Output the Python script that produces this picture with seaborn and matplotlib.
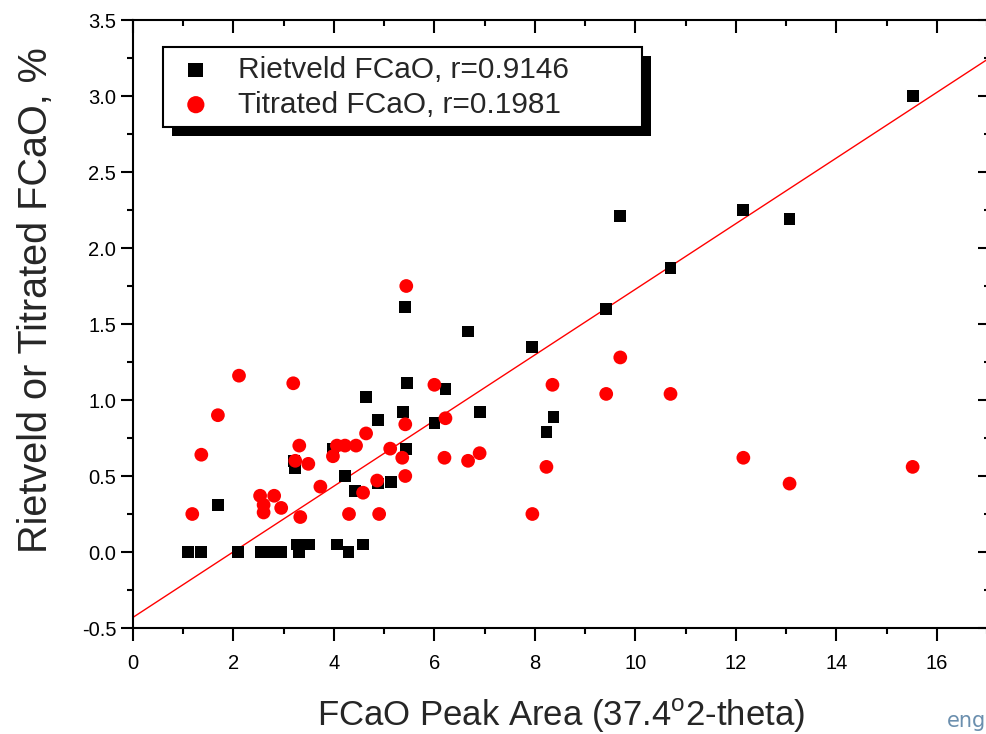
import matplotlib
matplotlib.use("Agg")
import matplotlib.pyplot as plt
from matplotlib.patches import Rectangle
from matplotlib.ticker import MultipleLocator
import seaborn as sns
import pandas as pd

# ---- data ----
riet_x = [1.1, 1.35, 1.69, 2.09, 2.55, 2.7, 2.85, 2.95, 3.27, 3.3, 3.5, 4.06, 4.29, 4.58,
          3.2, 3.22, 3.98, 4.22, 4.42, 5.42, 6.67, 5.46, 4.64, 6.22, 4.88, 5.38, 6.0, 6.91,
          5.44, 4.88, 5.14, 7.95, 8.37, 8.23, 9.7, 12.15, 13.07, 10.7, 9.42, 15.52]
riet_y = [0.0, 0.0, 0.31, 0.0, 0.0, 0.0, 0.0, 0.0, 0.05, 0.0, 0.05, 0.05, 0.0, 0.05,
          0.6, 0.55, 0.68, 0.5, 0.4, 1.61, 1.45, 1.11, 1.02, 1.07, 0.87, 0.92, 0.85, 0.92,
          0.68, 0.45, 0.46, 1.35, 0.89, 0.79, 2.21, 2.25, 2.19, 1.87, 1.6, 3.0]

titr_x = [1.18, 1.36, 1.69, 2.11, 2.53, 2.6, 2.6, 2.81, 2.95, 3.19, 3.31, 3.23, 3.49, 3.33,
          3.73, 3.98, 4.06, 4.22, 4.44, 4.3, 5.44, 6.0, 5.42, 6.22, 4.64, 5.12, 5.36, 6.2,
          6.67, 6.9, 4.86, 4.58, 5.42, 4.9, 7.95, 8.35, 8.23, 9.7, 9.42, 10.7, 12.15, 13.07, 15.52]
titr_y = [0.25, 0.64, 0.9, 1.16, 0.37, 0.31, 0.26, 0.37, 0.29, 1.11, 0.7, 0.6, 0.58, 0.23,
          0.43, 0.63, 0.7, 0.7, 0.7, 0.25, 1.75, 1.1, 0.84, 0.88, 0.78, 0.68, 0.62, 0.62,
          0.6, 0.65, 0.47, 0.39, 0.5, 0.25, 0.25, 1.1, 0.56, 1.28, 1.04, 1.04, 0.62, 0.45, 0.56]

fit_x = [0.0, 17.05]
fit_y = [-0.43, 3.25]

riet_label = "Rietveld FCaO, r=0.9146"
titr_label = "Titrated FCaO, r=0.1981"
x_label = "FCaO Peak Area (37.4$^{\\mathrm{o}}$2-theta)"
y_label = "Rietveld or Titrated FCaO, %"
x_ticks = [0, 2, 4, 6, 8, 10, 12, 14, 16]
y_ticks = [-0.5, 0.0, 0.5, 1.0, 1.5, 2.0, 2.5, 3.0, 3.5]

# ---- style ----
sns.set_theme(style="white")
plt.rcParams["font.family"] = ["Liberation Sans", "DejaVu Sans"]
plt.rcParams["mathtext.fontset"] = "custom"
plt.rcParams["mathtext.rm"] = "Liberation Sans"

W, H = 986, 734
fig = plt.figure(figsize=(W / 100, H / 100), dpi=100)
X0, X1, Y0, Y1 = 133, 989.5, 628, 20
ax = fig.add_axes([X0 / W, (H - Y0) / H, (X1 - X0) / W, (Y0 - Y1) / H])

df_r = pd.DataFrame({"x": riet_x, "y": riet_y})
df_t = pd.DataFrame({"x": titr_x, "y": titr_y})
fit_df = pd.DataFrame({"x": fit_x, "y": fit_y})

sns.lineplot(data=fit_df, x="x", y="y", ax=ax, color="red", linewidth=1.0, zorder=2)
sns.scatterplot(data=df_r, x="x", y="y", ax=ax, marker="s", s=72, color="black",
                edgecolor="none", linewidth=0, zorder=3, label=riet_label)
sns.scatterplot(data=df_t, x="x", y="y", ax=ax, marker="o", s=98, color="red",
                edgecolor="none", linewidth=0, zorder=4, label=titr_label)

ax.set_xlim(0, 17.05)
ax.set_ylim(-0.5, 3.5)
ax.xaxis.set_minor_locator(MultipleLocator(1))
ax.yaxis.set_minor_locator(MultipleLocator(0.25))
ax.set_xticks(x_ticks)
ax.set_xticklabels([str(v) for v in x_ticks])
ax.set_yticks(y_ticks)
ax.set_yticklabels([f"{v:.1f}" for v in y_ticks])

for sp in ax.spines.values():
    sp.set_color("black")
    sp.set_linewidth(1.5)

ax.tick_params(axis="both", which="both", colors="black", width=1.5,
               bottom=True, left=True, top=True, right=True,
               labeltop=False, labelright=False, labelsize=14.5)
ax.tick_params(axis="both", which="major", length=9)
ax.tick_params(axis="both", which="minor", length=4.5)
ax.tick_params(axis="x", which="both", pad=10)
ax.tick_params(axis="y", which="both", pad=3)
# outward ticks on bottom/left, inward on top/right (Origin style)
for t in ax.xaxis.get_major_ticks() + ax.xaxis.get_minor_ticks():
    t.tick1line.set_marker(3)
    t.tick2line.set_marker(3)
for t in ax.yaxis.get_major_ticks() + ax.yaxis.get_minor_ticks():
    t.tick1line.set_marker(0)
    t.tick2line.set_marker(0)

ax.set_xlabel(x_label, fontsize=25, labelpad=17)
ax.set_ylabel(y_label, fontsize=28.5, labelpad=19)
ax.yaxis.label.set_y(0.54)

AW, AH = X1 - X0, Y0 - Y1
lx0, lx1, ly0, ly1 = 163, 642, 47, 128
leg = ax.legend(loc="upper left",
                bbox_to_anchor=((lx0 - X0) / AW, (Y0 - ly1) / AH, (lx1 - lx0) / AW, (ly1 - ly0) / AH),
                mode="expand", frameon=True, fancybox=False, shadow=False,
                fontsize=21.5, handletextpad=0.6, borderpad=0.3, labelspacing=0.22,
                handlelength=1.6, borderaxespad=0, markerscale=1.25)
leg.get_frame().set_edgecolor("black")
leg.get_frame().set_linewidth(1.5)
leg.get_frame().set_facecolor("white")
leg.get_frame().set_alpha(1)

# drop shadow behind the legend box
fig.canvas.draw()
bb = leg.get_frame().get_window_extent().transformed(ax.transAxes.inverted())
sh = Rectangle((bb.x0 + 9 / AW, bb.y0 - 9 / AH), bb.width, bb.height, transform=ax.transAxes,
               facecolor="black", edgecolor="none", clip_on=False, zorder=4.5)
ax.add_patch(sh)

fig.text(947 / W, (H - 727) / H, "eng", color="#6b8fae", fontsize=15, ha="left",
         va="baseline", family="DejaVu Sans")

fig.savefig("out.png", dpi=100)
